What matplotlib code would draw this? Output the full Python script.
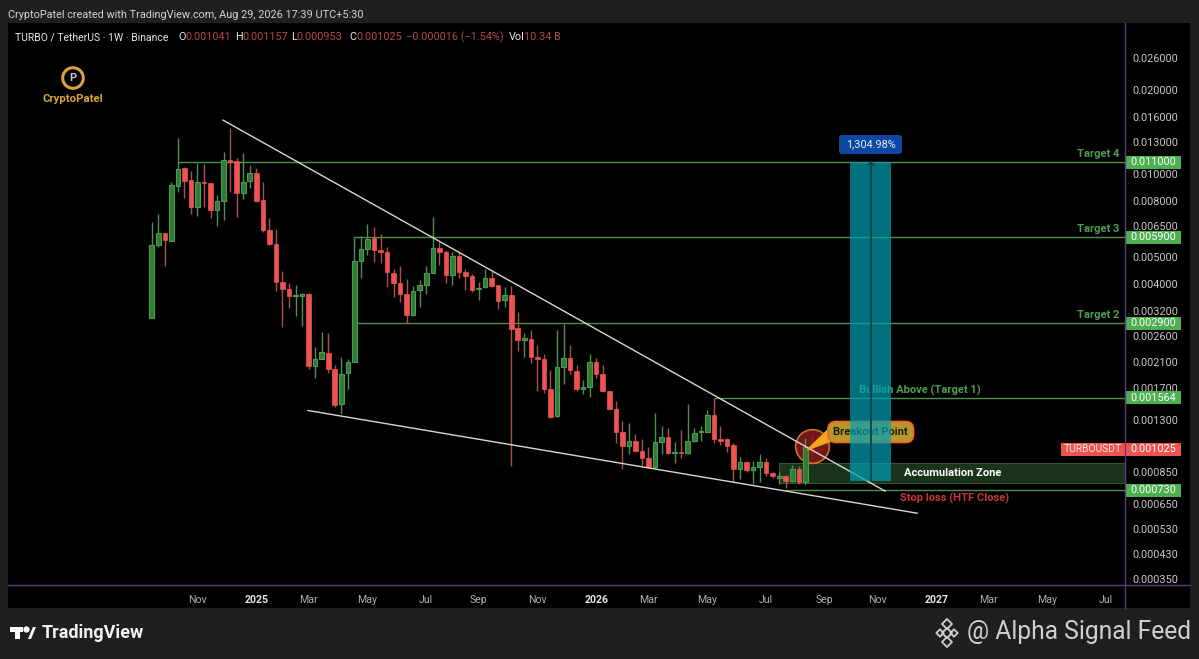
import numpy as np
import matplotlib
matplotlib.use('Agg')
import matplotlib.pyplot as plt
from matplotlib.patches import Rectangle, FancyBboxPatch, Polygon

plt.rcParams['font.family'] = ['Roboto', 'DejaVu Sans']

# weekly candles, oldest first
opens = [.00304, .00554, .00610, .00575, .00904, .01043, .00946, .00760, .00934, .00922,
         .00740, .00798, .01115, .01109, .00849, .00938, .01002, .00803, .00628, .00558,
         .00408, .00386, .00363, .00364, .00369, .00204, .00216, .00227, .00198, .00149,
         .00192, .00210, .00487, .00537, .00585, .00532, .00525, .00441, .00404, .00369,
         .00311, .00381, .00399, .00440, .00540, .00521, .00431, .00505, .00443, .00429,
         .00385, .00390, .00423, .00397, .00351, .00367, .00278, .00252, .00255, .00220,
         .00216, .00169, .00135, .00202, .00217, .00196, .00168, .00171, .00211, .00191,
         .00165, .00143, .00118, .00105, .00110, .00101, .00095, .00088, .00109, .00113,
         .00099, .00100, .00099, .00110, .00118, .00118, .00136, .00111, .00111, .00106,
         .00087, .00092, .00086, .00088, .00092, .00084, .00081, .00082, .00079, .00087,
         .00078, .001041]
highs = [.00672, .00715, .00613, .00934, .01338, .01052, .01018, .01094, .01082, .00926,
         .00837, .01192, .01454, .01135, .01188, .01073, .01043, .00934, .00690, .00635,
         .00445, .00404, .00398, .00372, .00372, .00239, .00270, .00268, .00205, .00219,
         .00216, .00588, .00597, .00659, .00641, .00607, .00547, .00456, .00465, .00418,
         .00395, .00414, .00466, .00696, .00570, .00533, .00525, .00525, .00453, .00436,
         .00409, .00456, .00445, .00398, .00392, .00395, .00319, .00268, .00274, .00242,
         .00225, .00197, .00275, .00289, .00242, .00205, .00182, .00225, .00217, .00205,
         .00166, .00153, .00129, .00127, .00116, .00111, .00104, .00138, .00124, .00122,
         .00109, .00120, .00149, .00122, .00124, .00142, .00156, .00124, .00112, .00108,
         .00096, .00093, .00093, .00098, .00095, .00085, .00085, .00083, .00090, .00089,
         .00112, .001157]
lows = [.00304, .00544, .00465, .00575, .00860, .00814, .00715, .00706, .00761, .00690,
        .00648, .00680, .00860, .00699, .00811, .00886, .00792, .00619, .00554, .00380,
        .00282, .00328, .00308, .00283, .00198, .00184, .00215, .00192, .00145, .00137,
        .00168, .00210, .00421, .00510, .00483, .00476, .00390, .00359, .00347, .00290,
        .00309, .00331, .00369, .00438, .00469, .00404, .00399, .00420, .00381, .00376,
        .00352, .00388, .00392, .00326, .00333, .00089, .00231, .00219, .00209, .00165,
        .00163, .00132, .00134, .00175, .00191, .00165, .00162, .00158, .00184, .00164,
        .00142, .00108, .00087, .00098, .00100, .00089, .000875, .000875, .00098, .00098,
        .00091, .00095, .00098, .00109, .00110, .00117, .00108, .00106, .00100, .00078,
        .00080, .00085, .00077, .00078, .00082, .00081, .00077, .00074, .00078, .00077,
        .00076, .000953]
closes = [.00554, .00610, .00577, .00907, .01040, .00943, .00756, .00932, .00922, .00738,
          .00798, .01115, .01100, .00849, .00934, .01002, .00798, .00628, .00558, .00408,
          .00384, .00363, .00367, .00369, .00203, .00215, .00228, .00198, .00147, .00191,
          .00210, .00487, .00537, .00581, .00532, .00523, .00443, .00405, .00369, .00311,
          .00380, .00399, .00441, .00540, .00521, .00431, .00505, .00443, .00428, .00381,
          .00388, .00423, .00395, .00349, .00367, .00277, .00252, .00256, .00219, .00216,
          .00169, .00134, .00202, .00217, .00197, .00168, .00171, .00211, .00190, .00165,
          .00143, .00118, .00105, .00110, .00101, .00095, .00088, .00109, .00113, .00099,
          .00100, .00099, .00110, .00117, .00119, .00136, .00111, .00110, .00105, .00087,
          .00092, .00086, .00088, .00092, .00084, .00082, .00082, .00079, .00087, .00078,
          .00104, .001025]

price_ticks = [.026, .020, .016, .013, .010, .008, .0065, .005, .004, .0032, .0026, .0021,
               .0017, .0013, .00085, .00065, .00053, .00043, .00035]
level_tags = [.011, .0059, .0029, .001564, .00073]
level_starts = [4, 31, 31.4, 86.2, 97]
week_ticks = [7, 16, 24, 33, 42, 50, 59, 68, 76, 85, 94, 103, 111, 120, 128, 137, 146]
week_labels = ['Nov', '2025', 'Mar', 'May', 'Jul', 'Sep', 'Nov', '2026', 'Mar', 'May', 'Jul',
               'Sep', 'Nov', '2027', 'Mar', 'May', 'Jul']
upper_x = [10.9, 112.2]
upper_y = [.01556, .000724]
lower_x = [23.9, 117.1]
lower_y = [.00141, .000603]
last_price = .001025

GREEN = '#2e7d32'
GREEN_EDGE = '#4c9a50'
RED = '#ef5350'
PURPLE = '#5e3a80'
LEVEL = '#4d8f50'
W, H = 1199, 659

fig = plt.figure(figsize=(W / 100, H / 100), dpi=100, facecolor='#1f1f1f')

# backdrop panel
bg = fig.add_axes([0, 0, 1, 1], zorder=0)
bg.set_xlim(0, W)
bg.set_ylim(H, 0)
bg.axis('off')
bg.add_patch(Rectangle((8, 23), 1182, 585, color='black', lw=0))

ax = fig.add_axes([8 / W, 1 - 585 / H, 1117 / W, 562 / H], zorder=1)
ax.set_facecolor('black')
ax.set_yscale('log')
ax.set_xlim(-21.99, 148.9)
ax.set_ylim(.000333, .03474)

x = np.arange(len(opens))
o, h, l, c = map(np.array, (opens, highs, lows, closes))
up = c >= o
# the running candle sits under the breakout circle
z = np.where(x == x[-1], 3.0, 4.0)
for i in x:
    wick = '#4f8f52' if up[i] else '#a8524d'
    ax.vlines(i, l[i], h[i], color=wick, lw=1, zorder=z[i])
    if up[i]:
        ax.bar(i, c[i] - o[i], bottom=o[i], width=0.7, color=GREEN, edgecolor=GREEN_EDGE, lw=0.8, zorder=z[i])
    else:
        ax.bar(i, o[i] - c[i], bottom=c[i], width=0.7, color=RED, edgecolor=RED, lw=0.5, zorder=z[i])

# levels and trend lines
for v, start in zip(level_tags, level_starts):
    ax.plot([start, 148.9], [v, v], color=LEVEL, lw=1, zorder=2)
ax.plot(upper_x, upper_y, color='#d8d8d0', lw=1.0, zorder=5)
ax.plot(lower_x, lower_y, color='#d8d8d0', lw=1.0, zorder=5)

# accumulation zone
ax.fill_between([96, 148.9], .000775, .000915, facecolor='#1a331b', edgecolor='#35552f', lw=0.8, zorder=1)

# breakout marker and callout
ax.scatter([101], [.00105], s=590, facecolor='#8a1c1c', edgecolor='#d98a2b', lw=1.2, alpha=0.85, zorder=3.5)
ax.fill([100.3, 104.2, 104.2], [.00102, .00125, .00110], color='#f2a51f', zorder=6)
ax.text(110, .00118, 'Breakout Point', ha='center', va='center', fontsize=8.0, fontweight='bold',
        color='#1c1c10', zorder=7,
        bbox=dict(boxstyle='round,pad=0.48,rounding_size=0.7', fc='#b8962e', ec='#f26a21', lw=1.4))
ax.text(117.5, .00167, 'Bullish Above (Target 1)', ha='center', va='center', fontsize=8, fontweight='bold',
        color='#4f9d55', zorder=7)

# target projection on top of the callout
ax.add_patch(Rectangle((106.9, .00079), 6.2, .011 - .00079, fc='#00a0b4', ec='none', alpha=0.7, zorder=8))
ax.plot([110.1, 110.1], [.00079, .011], color='#0e3a44', lw=1.2, zorder=9)

ax.yaxis.tick_right()
ax.set_yticks(price_ticks)
ax.set_yticklabels(['%.6f' % p for p in price_ticks])
ax.minorticks_off()
ax.tick_params(axis='y', length=0, pad=5, labelsize=7.8, labelcolor='#c8c8c8')
ax.set_xticks(week_ticks)
ax.set_xticklabels(week_labels)
ax.tick_params(axis='x', length=0, pad=7, labelsize=7.6, labelcolor='#b0b0b0')
for lab, name in zip(ax.get_xticklabels(), week_labels):
    if name.startswith('20'):
        lab.set_fontweight('bold')
        lab.set_color('#e8e8e8')
for s in ax.spines.values():
    s.set_visible(False)

# everything outside the plotting area, in pixels
top = fig.add_axes([0, 0, 1, 1], zorder=2)
top.set_xlim(0, W)
top.set_ylim(H, 0)
top.axis('off')
top.patch.set_alpha(0)
top.plot([8, 1190], [585, 585], color=PURPLE, lw=1)
top.plot([1125, 1125], [23, 608], color=PURPLE, lw=1)


def price_px(v):
    return H - ax.transData.transform((0, v))[1]


def tag(v, color):
    y = price_px(v)
    top.add_patch(Rectangle((1126, y - 6.5), 55, 13, color=color, lw=0))
    top.text(1153.5, y, '%.6f' % v, color='white', fontsize=7.8, ha='center', va='center')


for v in level_tags:
    tag(v, '#4caf50')
y_last = price_px(last_price)
top.add_patch(Rectangle((1061, y_last - 6.5), 120, 13, color=RED, lw=0))
top.text(1093, y_last, 'TURBOUSDT', color='#fbe3e3', fontsize=7.4, ha='center', va='center')
tag(last_price, RED)

for label, yy in zip(['Target 4', 'Target 3', 'Target 2'], [154, 229, 315]):
    top.text(1119, yy, label, color='#4f9d55', fontsize=8, fontweight='bold', ha='right', va='center')
top.text(952.5, 472.5, 'Accumulation Zone', color='white', fontsize=8, fontweight='bold', ha='center', va='center')
top.text(955, 498.5, 'Stop loss (HTF Close)', color='#c8353a', fontsize=8, fontweight='bold', ha='center', va='center')

top.add_patch(FancyBboxPatch((841, 137), 59, 15, boxstyle='round,pad=2,rounding_size=3', fc='#0d47a1', ec='none'))
top.text(870.5, 144.5, '1,304.98%', color='#e6eefc', fontsize=7.8, ha='center', va='center')
top.plot([868, 871, 874], [165, 162, 165], color='#0e3a44', lw=1)

# header
top.text(8, 15, 'CryptoPatel created with TradingView.com, Aug 29, 2026 17:39 UTC+5:30', color='#d4d4d4',
         fontsize=7.8, ha='left', va='center')
header = [('O', '#e8e8e8', 178), ('0.001041', '#b24a4a', 185),
          ('H', '#e8e8e8', 235), ('0.001157', '#b24a4a', 242), ('L', '#e8e8e8', 291), ('0.000953', '#b24a4a', 296),
          ('C', '#e8e8e8', 349), ('0.001025', '#b24a4a', 356), ('−0.000016 (−1.54%)', '#b24a4a', 406),
          ('Vol', '#e8e8e8', 509), ('10.34 B', '#b24a4a', 524)]
top.text(15, 37.5, 'TURBO / TetherUS · 1W · Binance', color='#e8e8e8', fontsize=7.5, ha='left', va='center')
for s, col, xx in header:
    top.text(xx, 37.5, s, color=col, fontsize=7.8, ha='left', va='center')

# CryptoPatel logo
top.scatter([73], [78], s=220, facecolor='none', edgecolor='#d9a441', lw=2.2)
top.text(73, 78, 'P', color='#c8c8c8', fontsize=8, fontweight='bold', ha='center', va='center')
top.text(73, 98.5, 'CryptoPatel', color='#d9a441', fontsize=8.2, fontweight='bold', ha='center', va='center')

# TradingView footer
top.add_patch(Rectangle((10, 627), 13, 4.5, color='white', lw=0))
top.add_patch(Rectangle((15, 627), 5, 12, color='white', lw=0))
top.scatter([26], [629], s=12, color='white')
top.add_patch(Polygon([[28, 639], [33, 627], [36, 627], [31, 639]], color='white', lw=0))
top.text(42, 633, 'TradingView', color='#f2f2f2', fontsize=13, fontweight='bold', ha='left', va='center')

# watermark
top.scatter([947, 940, 954, 947, 947], [633, 633, 633, 624, 642], marker='D', s=[26, 14, 14, 26, 26],
            facecolor='none', edgecolor='#cfcfcf', lw=1.3)
top.text(967, 632, '@ Alpha Signal Feed', color='#cfcfcf', fontsize=17.7, ha='left', va='center')

fig.savefig('out.png', dpi=100, facecolor=fig.get_facecolor())
